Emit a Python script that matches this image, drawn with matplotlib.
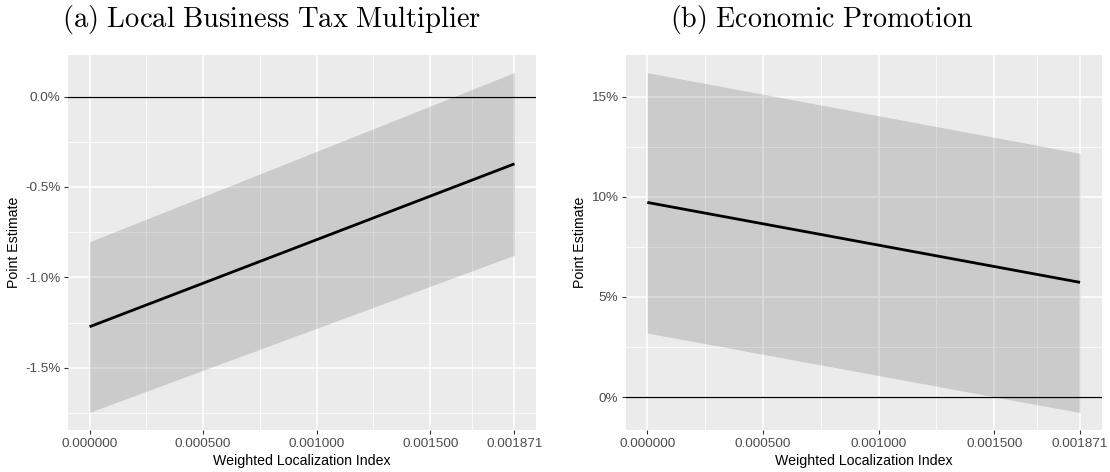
import matplotlib
matplotlib.use("Agg")
import matplotlib.pyplot as plt
import numpy as np
from matplotlib.ticker import FuncFormatter

plt.rcParams['mathtext.fontset'] = 'cm'
plt.rcParams['font.family'] = ['Liberation Sans', 'DejaVu Sans']

# ---- data ----
x_vals = [0.0, 0.001871]
x_ticks = [0.0, 0.0005, 0.001, 0.0015, 0.001871]
x_tick_labels = ["0.000000", "0.000500", "0.001000", "0.001500", "0.001871"]

# panel (a): values in percent
a_est = [-1.273, -0.372]
a_low = [-1.746, -0.877]
a_high = [-0.803, 0.133]
a_yticks = [0.0, -0.5, -1.0, -1.5]
a_ylim = (-1.844, 0.230)

# panel (b): values in percent
b_est = [9.72, 5.73]
b_low = [3.20, -0.77]
b_high = [16.20, 12.17]
b_yticks = [0, 5, 10, 15]
b_ylim = (-1.64, 17.08)

titles = ["(a) Local Business Tax Multiplier", "(b) Economic Promotion"]

W, H = 1110, 472
fig = plt.figure(figsize=(W / 100, H / 100), dpi=100)

def px_axes(x0, x1, y0, y1):
    return fig.add_axes([x0 / W, 1 - y1 / H, (x1 - x0) / W, (y1 - y0) / H])

ax_a = px_axes(68.3, 535.7, 55, 430)
ax_b = px_axes(625.7, 1101.7, 55, 430)

def style(ax, est, low, high, yticks, ylim, fmt):
    ax.set_facecolor('#EBEBEB')
    for s in ax.spines.values():
        s.set_visible(False)
    rng = x_vals[-1] - x_vals[0]
    ax.set_xlim(x_vals[0] - 0.05 * rng, x_vals[-1] + 0.05 * rng)
    ax.set_ylim(*ylim)
    ax.set_xticks(x_ticks)
    ax.set_xticklabels(x_tick_labels)
    ax.set_yticks(yticks)
    ax.yaxis.set_major_formatter(FuncFormatter(fmt))
    # minor gridlines
    xminor = [(x_ticks[i] + x_ticks[i + 1]) / 2 for i in range(len(x_ticks) - 1)]
    ys = sorted(yticks)
    step = ys[1] - ys[0]
    yminor = [v + step / 2 for v in ys] + [ys[0] - step / 2]
    for xm in xminor:
        ax.axvline(xm, color='white', lw=0.55, zorder=0.5)
    for ym in yminor:
        ax.axhline(ym, color='white', lw=0.55, zorder=0.5)
    for xt in x_ticks:
        ax.axvline(xt, color='white', lw=1.1, zorder=0.6)
    for yt in yticks:
        ax.axhline(yt, color='white', lw=1.1, zorder=0.6)
    ax.fill_between(x_vals, low, high, color='black', alpha=0.135, lw=0, zorder=1)
    ax.axhline(0, color='black', lw=0.9, zorder=2)
    ax.plot(x_vals, est, color='black', lw=2.0, zorder=3, solid_capstyle='butt')
    ax.tick_params(axis='both', which='major', length=3, width=0.8, color='#333333',
                   labelcolor='#4D4D4D', labelsize=9.7, pad=2.5)
    ax.set_xlabel("Weighted Localization Index", fontsize=10.2, color='black', labelpad=3)
    ax.set_ylabel("Point Estimate", fontsize=10.2, color='black', labelpad=3)

style(ax_a, a_est, a_low, a_high, a_yticks, a_ylim, lambda v, p: f"{v:.1f}%")
style(ax_b, b_est, b_low, b_high, b_yticks, b_ylim, lambda v, p: f"{v:.0f}%")

def mt(s):
    return r"$\mathrm{" + s.replace(" ", r"\ ") + "}$"

fig.text(272 / W, 1 - 20 / H, mt(titles[0]), ha='center', va='center', fontsize=20.6)
fig.text(822 / W, 1 - 20 / H, mt(titles[1]), ha='center', va='center', fontsize=20.2)

fig.savefig("out.png", dpi=100)
